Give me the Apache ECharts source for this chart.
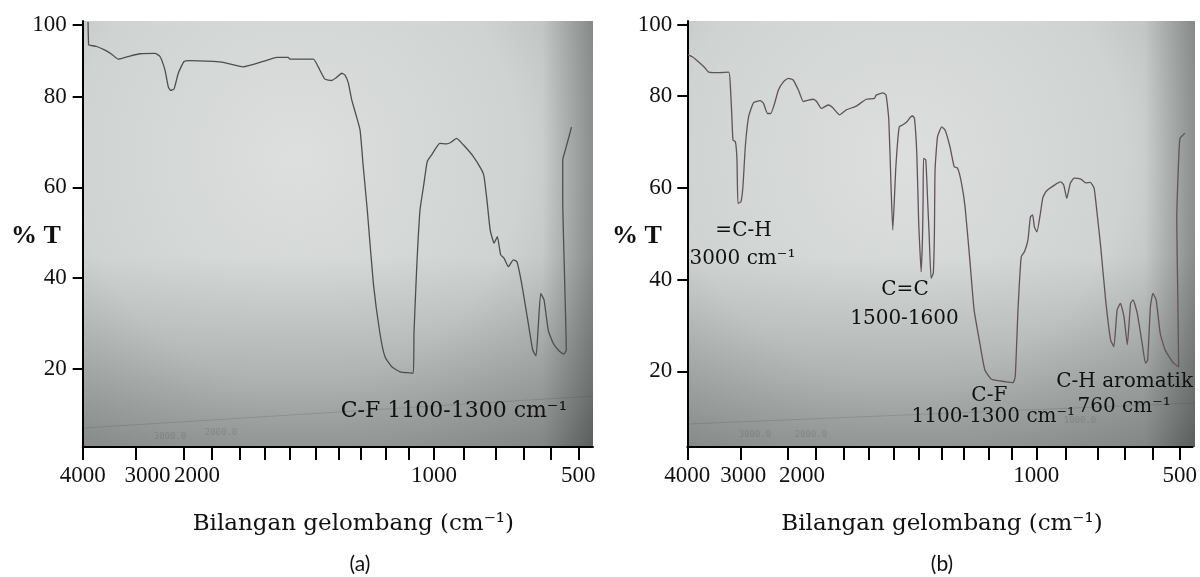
<!DOCTYPE html>
<html><head><meta charset="utf-8">
<script src="https://cdn.jsdelivr.net/npm/echarts@6/dist/echarts.min.js"></script>
<style>html,body{margin:0;padding:0;background:#fff}#c{width:1200px;height:577px}</style>
</head><body><div id="c"></div>
<script>
// ---------- data ----------
// wavenumbers (cm-1) of the hand-drawn tick marks on both x axes
const xTickWavenumbers = [4000,3000,2000,1900,1800,1700,1600,1500,1400,1300,1200,1100,1000,900,800,700,600,500];
const xTickLabels = ['4000','3000','2000','1000','500'];
const yTickLabels = ['20','40','60','80','100'];

// spectrum (a): wavenumber (cm-1) and %T
const waveA = [3900,3890,3876,3737,3582,3456,3332,3113,2917,2604,2500,2396,2327,2277,2208,2119,2000,1978,1894,1859,1787,1707,1653,1607,1600,1510,1490,1460,1430,1407,1385,1370,1355,1340,1325,1303,1290,1274,1250,1224,1204,1175,1139,1083,1080,1069,1056,1042,1027,1009,980,957,943,923,900,869,843,836,827,817,805,794,782,770,754,736,723,706,682,666,654,646,637,625,610,592,567,553,544,550,557,557,549,531,525];
const transA = [96.5,91.6,91.4,91.1,90.3,89.4,88.3,89.0,89.5,89.6,88.9,85.9,82.2,81.4,81.7,85.2,87.8,88.0,87.8,87.6,86.6,87.8,88.7,88.7,88.3,88.3,86.6,83.9,83.6,84.3,85.2,84.8,83.0,79.3,76.7,72.7,64.6,55.0,38.8,27.8,22.6,20.4,19.3,19.0,27.9,42.5,55.0,60.2,65.7,67.2,69.7,69.6,69.9,70.8,69.4,66.8,63.8,62.4,57.2,50.6,47.7,49.1,45.1,44.4,42.5,44.0,43.6,38.8,30.0,24.1,22.8,29.3,36.6,35.1,28.5,25.6,23.7,23.2,24.1,39.5,57.2,66.1,67.9,71.9,73.3];

// spectrum (b): wavenumber (cm-1) and %T
const waveB = [3987,3906,3812,3687,3593,3437,3218,3186,3156,3137,3092,3062,3043,2985,2944,2894,2825,2721,2581,2513,2429,2360,2290,2200,2096,1999,1981,1962,1944,1926,1908,1896,1879,1855,1840,1814,1789,1749,1709,1676,1669,1642,1629,1618,1609,1602,1590,1577,1564,1547,1532,1525,1518,1509,1502,1500,1491,1485,1482,1480,1470,1461,1455,1446,1436,1431,1428,1417,1398,1383,1361,1342,1327,1309,1294,1275,1258,1235,1215,1188,1130,1094,1085,1074,1061,1048,1034,1024,1015,1008,998,986,978,967,938,916,906,896,885,873,852,837,823,811,803,789,771,753,741,729,717,704,692,680,671,656,638,626,618,608,599,587,572,554,523,504,507,511,504,499,481];
const transB = [88.96,88.57,87.7,86.4,85.2,85.1,85.2,82.0,74.8,70.4,70.05,66.1,56.6,57.0,60.25,69.0,75.5,78.55,79.0,78.4,76.2,76.2,78.05,81.3,83.1,83.85,83.5,81.3,78.8,79.1,79.3,78.8,77.3,78.05,77.55,75.9,77.0,77.8,79.3,79.5,80.2,80.7,80.2,74.8,60.25,50.8,64.6,73.3,73.7,74.4,75.5,75.65,75.15,67.5,53.0,50.2,41.7,48.6,57.4,66.4,66.1,56.6,50.1,40.3,41.4,50.1,63.9,71.1,73.3,72.6,68.95,64.6,64.3,61.0,55.9,44.3,33.4,26.1,20.3,18.3,17.8,17.55,18.9,33.4,45.0,46.1,48.6,53.7,54.1,51.5,50.4,54.5,57.8,59.2,60.6,61.3,60.6,57.7,61.0,62.1,61.9,61.1,61.2,59.9,55.2,47.2,35.6,26.9,25.4,33.4,34.85,31.9,25.8,34.85,35.6,32.7,26.1,21.8,22.5,34.1,37.0,35.6,28.3,24.7,21.8,21.0,35.6,53.0,66.1,70.8,71.9];

// ---------- axis calibration (hand-drawn, non-linear wavenumber scale) ----------
const xTickSpacing = [53.3,48,27.7,28.3,25,25,26,22.3,22.4,25.3,23,25,29.3,32.4,27.6,27.7,27.3];
const cum = [0];
for (let i = 0; i < xTickSpacing.length; i++) cum.push(cum[i] + xTickSpacing[i]);
function pos(w) {
  const T = xTickWavenumbers;
  let i = 0;
  while (i < T.length - 2 && w < T[i + 1]) i++;
  return cum[i] + (T[i] - w) / (T[i] - T[i + 1]) * (cum[i + 1] - cum[i]);
}
const labelWave = xTickLabels.map(Number);
function nearestLabel(v) {
  let best = 0, d = 1e9;
  labelWave.forEach((w, i) => { const dd = Math.abs(pos(w) - v); if (dd < d) { d = dd; best = i; } });
  return xTickLabels[best];
}

const serif = 'Liberation Serif';
const XF = 23;
const rich = {
  n: {fontFamily: serif, fontSize: XF, color: '#111'},
  p6: {fontFamily: serif, fontSize: XF, color: '#111', padding: [0, 0, 0, 6]},
  p23: {fontFamily: serif, fontSize: XF, color: '#111', padding: [0, 0, 0, 23]},
  p26: {fontFamily: serif, fontSize: XF, color: '#111', padding: [0, 0, 0, 26]},
  p28: {fontFamily: serif, fontSize: XF, color: '#111', padding: [0, 0, 0, 28]}
};
const shiftA = {'3000': 23, '2000': 26};
const shiftB = {'3000': 6, '2000': 28};

function xAxisFor(gi, maxv, shift) {
  return {
    gridIndex: gi, type: 'value', min: 0, max: maxv, z: 3,
    axisLine: {show: true, onZero: false, lineStyle: {color: '#000', width: 2}},
    axisTick: {show: true, customValues: xTickWavenumbers.map(pos), length: 13, lineStyle: {color: '#000', width: 2}},
    axisLabel: {
      customValues: labelWave.map(pos), margin: 17,
      fontFamily: serif, fontSize: XF, color: '#111',
      formatter: v => { const t = nearestLabel(v); const p = shift[t]; return p ? '{p' + p + '|' + t + '}' : '{n|' + t + '}'; },
      rich: rich
    },
    splitLine: {show: false}
  };
}
function yAxisFor(gi, minv, maxv, margin) {
  const topTick = maxv - 4 * (maxv - minv) / 426;
  const vals = [20, 40, 60, 80, topTick];
  return {
    gridIndex: gi, type: 'value', min: minv, max: maxv, z: 3,
    axisLine: {show: true, onZero: false, lineStyle: {color: '#000', width: 2}},
    axisTick: {show: true, customValues: vals, length: 10, lineStyle: {color: '#000', width: 2}},
    axisLabel: {
      customValues: vals, margin: margin, fontFamily: serif, fontSize: 23, color: '#111',
      formatter: v => { let bi = 0, d = 1e9; vals.forEach((x, i) => { if (Math.abs(x - v) < d) { d = Math.abs(x - v); bi = i; } }); return yTickLabels[bi]; }
    },
    splitLine: {show: false}
  };
}

function photo(x, y, w, h, edge) {
  return [
    {type: 'rect', z: -10, silent: true, shape: {x, y, width: w, height: h},
     style: {fill: {type: 'radial', x: 0.42, y: 0.32, r: 1.05, colorStops: [
       {offset: 0, color: '#dcdfdd'}, {offset: 0.5, color: '#cfd3d1'}, {offset: 0.85, color: '#a9aeac'}, {offset: 1, color: '#878c8a'}]}}},
    {type: 'rect', z: -9, silent: true, shape: {x, y, width: w, height: h},
     style: {fill: {type: 'linear', x: 0, y: 0, x2: 0, y2: 1, colorStops: [
       {offset: 0, color: 'rgba(40,45,43,0)'}, {offset: 0.55, color: 'rgba(40,45,43,0)'}, {offset: 1, color: 'rgba(40,45,43,0.3)'}]}}},
    {type: 'rect', z: -9, silent: true, shape: {x, y, width: w, height: h},
     style: {fill: {type: 'linear', x: 0, y: 0, x2: 1, y2: 0, colorStops: [
       {offset: 0, color: 'rgba(30,35,33,0)'}, {offset: 0.9, color: 'rgba(30,35,33,0)'}, {offset: 1, color: 'rgba(30,35,33,0.32)'}]}}},
    {type: 'line', z: -8, silent: true, shape: edge,
     style: {stroke: 'rgba(60,65,63,0.18)', lineWidth: 1}}
  ];
}
function txt(text, x, y, size, family, weight, fill) {
  return {type: 'text', z: 20, silent: true,
    style: {text, x, y, font: (weight || 'normal') + ' ' + size + 'px "' + family + '"', fill: fill || '#111', align: 'center', verticalAlign: 'middle'}};
}
const ds = 'DejaVu Serif';
const faint = 'rgba(70,75,73,0.22)';

const option = {
  animation: false,
  backgroundColor: '#ffffff',
  grid: [
    {left: 82.7, top: 21, width: 510.3, height: 426, show: false},
    {left: 687.3, top: 21, width: 507.7, height: 426, show: false}
  ],
  xAxis: [xAxisFor(0, 510.3, shiftA), xAxisFor(1, 508.5, shiftB)],
  yAxis: [yAxisFor(0, 2.69, 96.73, 16), yAxisFor(1, 3.54, 96.35, 15)],
  series: [
    {type: 'line', xAxisIndex: 0, yAxisIndex: 0, z: 5, showSymbol: false, smooth: 0.15,
     lineStyle: {color: '#4e4e52', width: 1.3}, data: waveA.map((w, i) => [pos(w), transA[i]])},
    {type: 'line', xAxisIndex: 1, yAxisIndex: 1, z: 5, showSymbol: false, smooth: 0.15,
     lineStyle: {color: '#62525c', width: 1.3}, data: waveB.map((w, i) => [pos(w), transB[i]])}
  ],
  graphic: [].concat(
    photo(82.7, 21, 510.3, 426, {x1: 84, y1: 428, x2: 593, y2: 396}),
    photo(687.3, 21, 507.7, 426, {x1: 688, y1: 424, x2: 1195, y2: 403}),
    [
      txt('3000.0', 170, 437, 9, 'DejaVu Sans Mono', 'normal', faint),
      txt('2000.0', 221, 433, 9, 'DejaVu Sans Mono', 'normal', faint),
      txt('3000.0', 755, 435, 9, 'DejaVu Sans Mono', 'normal', faint),
      txt('2000.0', 811, 435, 9, 'DejaVu Sans Mono', 'normal', faint),
      txt('1000.0', 1080, 421, 9, 'DejaVu Sans Mono', 'normal', faint),
      txt('C-F 1100-1300 cm\u207B\u00B9', 454, 410.8, 22, ds),
      txt('=C-H', 743.5, 230.3, 20, ds),
      txt('3000 cm\u207B\u00B9', 742.4, 258.7, 20, ds),
      txt('C=C', 905, 290, 20, ds),
      txt('1500-1600', 904.5, 319.2, 20, ds),
      txt('C-F', 989.3, 395.8, 20, ds),
      txt('1100-1300 cm\u207B\u00B9', 993.3, 417, 20, ds),
      txt('C-H aromatik', 1124.7, 382, 20, ds),
      txt('760 cm\u207B\u00B9', 1124.2, 406.3, 20, ds),
      txt('Bilangan gelombang (cm\u207B\u00B9)', 353.3, 524, 23, ds),
      txt('Bilangan gelombang (cm\u207B\u00B9)', 942, 524, 23, ds),
      txt('(a)', 360, 564, 21, 'Lato'),
      txt('(b)', 942, 564, 21, 'Lato'),
      txt('% T', 36, 236.3, 26, serif, 'bold'),
      txt('% T', 637, 236, 26, serif, 'bold')
    ]
  )
};
echarts.init(document.getElementById('c')).setOption(option);
</script>
</body></html>
